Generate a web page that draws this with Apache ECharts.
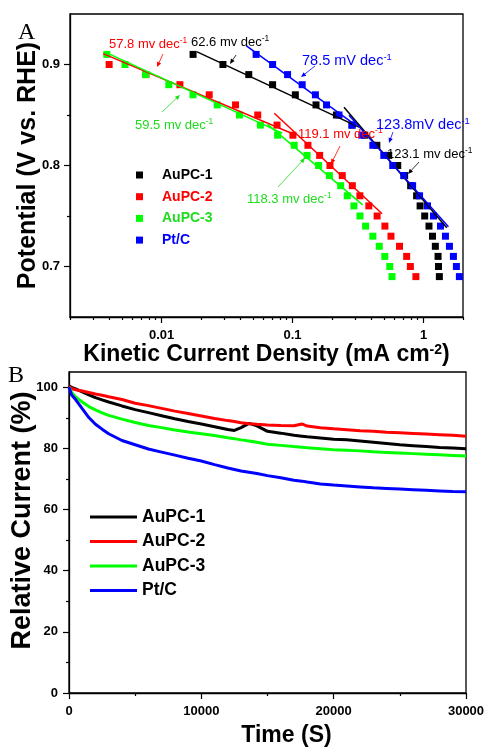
<!DOCTYPE html>
<html>
<head>
<meta charset="utf-8">
<script src="https://cdn.jsdelivr.net/npm/echarts@6/dist/echarts.min.js"></script>
<style>
  html, body { margin: 0; padding: 0; background: #fff; }
  #main { width: 489px; height: 750px; }
</style>
</head>
<body>
<div id="main"></div>
<script>
// ---- panel A: Tafel data (potential vs kinetic current density) ----
var potential = [0.91, 0.90, 0.89, 0.88, 0.87, 0.86, 0.85, 0.84, 0.83, 0.82, 0.81, 0.80,
  0.79, 0.78, 0.77, 0.76, 0.75, 0.74, 0.73, 0.72, 0.71, 0.70, 0.69];
var jkAuPC1 = [0.0174, 0.0294, 0.0463, 0.0704, 0.105, 0.151, 0.216, 0.285, 0.356, 0.44, 0.542, 0.635,
  0.717, 0.797, 0.885, 0.941, 1.02, 1.10, 1.17, 1.23, 1.29, 1.30, 1.32];
var jkAuPC2 = [null, 0.00398, 0.0076, 0.0138, 0.0231, 0.0367, 0.0542, 0.0761, 0.1006, 0.131, 0.161, 0.193,
  0.2395, 0.286, 0.3265, 0.382, 0.442, 0.507, 0.564, 0.655, 0.743, 0.793, 0.874];
var jkAuPC3 = [0.00382, 0.00526, 0.00756, 0.01136, 0.01738, 0.0266, 0.0393, 0.0568, 0.0769, 0.1029, 0.129, 0.158,
  0.191, 0.233, 0.2615, 0.294, 0.327, 0.361, 0.41, 0.459, 0.506, 0.552, 0.574];
var jkPtC = [0.0527, 0.0704, 0.0916, 0.1184, 0.1494, 0.1817, 0.2261, 0.2838, 0.338, 0.41, 0.497, 0.5815,
  0.705, 0.825, 0.932, 1.072, 1.191, 1.346, 1.469, 1.576, 1.69, 1.781, 1.877];

// Tafel fit segments [jk, E]
var fitAuPC1a = [[0.0185, 0.9128], [0.321, 0.838]];
var fitAuPC1b = [[0.247, 0.8576], [1.503, 0.7384]];
var fitAuPC2a = [[0.00358, 0.9108], [0.1066, 0.830]];
var fitAuPC2b = [[0.0725, 0.8517], [0.4825, 0.7522]];
var fitAuPC3a = [[0.00378, 0.9118], [0.0834, 0.832]];
var fitAuPC3b = [[0.0642, 0.8409], [0.343, 0.761]];
var fitPtCa = [[0.0442, 0.9187], [0.303, 0.8399]];
var fitPtCb = [[0.2694, 0.8498], [1.548, 0.7394]];

var xTicksA = [0.01, 0.1, 1];
var xMinorA = [0.002, 0.003, 0.004, 0.005, 0.006, 0.007, 0.008, 0.009, 0.02, 0.03, 0.04, 0.05, 0.06, 0.07,
  0.08, 0.09, 0.2, 0.3, 0.4, 0.5, 0.6, 0.7, 0.8, 0.9, 2];
var yTicksA = [0.7, 0.8, 0.9];
var yMinorA = [0.75, 0.85];

// ---- panel B: stability ----
var timeS = [0, 200, 500, 1000, 1500, 2000, 2500, 3000, 4000, 5000, 6000, 7000, 8000, 9000, 10000, 11000,
  12000, 12500, 13000, 13600, 14200, 15000, 16000, 17000, 17600, 18000, 19000, 20000, 21000, 22000,
  23000, 24000, 25000, 26000, 27000, 28000, 29000, 30000];
var curAuPC1 = [100.5, 100, 99.5, 98.5, 97.5, 96.6, 95.9, 95.2, 93.9, 92.7, 91.7, 90.7, 89.7, 88.8, 88.0, 87.1,
  86.2, 85.9, 86.8, 88.2, 87.4, 85.6, 85.0, 84.3, 84.0, 83.8, 83.4, 83.0, 82.8, 82.4,
  82.0, 81.6, 81.2, 80.9, 80.6, 80.3, 80.1, 79.9];
var curAuPC2 = [100.3, 99.6, 99.2, 98.8, 98.3, 97.8, 97.4, 96.9, 96.0, 94.8, 94.0, 93.1, 92.2, 91.4, 90.6, 89.8,
  89.1, 88.8, 88.4, 88.1, 87.9, 87.7, 87.5, 87.4, 88.0, 87.3, 86.8, 86.4, 86.1, 85.8,
  85.6, 85.3, 85.1, 84.9, 84.7, 84.5, 84.3, 84.0];
var curAuPC3 = [100, 98.3, 96.8, 95.2, 93.7, 92.6, 91.6, 90.8, 89.6, 88.5, 87.5, 86.8, 86.0, 85.4, 84.8, 84.2,
  83.5, 83.2, 82.8, 82.4, 82.0, 81.4, 81.0, 80.6, 80.4, 80.2, 79.9, 79.6, 79.4, 79.2,
  78.9, 78.7, 78.5, 78.3, 78.1, 77.9, 77.7, 77.5];
var curPtC = [100, 97.5, 96.0, 93.0, 90.1, 87.9, 86.3, 84.8, 82.6, 81.2, 79.8, 78.8, 77.8, 76.8, 75.9, 74.7,
  73.6, 73.1, 72.6, 72.2, 71.8, 71.1, 70.4, 69.6, 69.3, 69.0, 68.4, 68.0, 67.7, 67.4,
  67.1, 66.9, 66.7, 66.5, 66.3, 66.1, 65.9, 65.8];

var xTicksB = [0, 10000, 20000, 30000];
var xMinorB = [5000, 15000, 25000];
var yTicksB = [0, 20, 40, 60, 80, 100];
var yMinorB = [10, 30, 50, 70, 90];

var names = ['AuPC-1', 'AuPC-2', 'AuPC-3', 'Pt/C'];
var colors = ['#000000', '#ff0000', '#00ff00', '#0000ff'];
var textColors = ['#000000', '#ff0000', '#1fdc1f', '#0000ff'];

var FONT = 'Arial, "Liberation Sans", sans-serif';

function pairs(xs, ys) {
  var out = [];
  for (var i = 0; i < xs.length; i++) {
    if (xs[i] != null && ys[i] != null) out.push([xs[i], ys[i]]);
  }
  return out;
}

// annotation texts and arrows (pixel layout)
var notes = [
  {t: '57.8 mv dec', x: 109, y: 44, c: '#ff0000', s: 13, ax: [163, 54, 157, 67]},
  {t: '62.6 mv dec', x: 191, y: 42, c: '#000000', s: 13, ax: [236, 55, 230, 64]},
  {t: '78.5 mV dec', x: 302, y: 61, c: '#0000ff', s: 14.5, ax: [315, 66, 301, 77]},
  {t: '59.5 mv dec', x: 135, y: 125, c: '#1fdc1f', s: 13, ax: [162, 112, 180, 95]},
  {t: '119.1 mv dec', x: 298, y: 134, c: '#ff0000', s: 13, ax: [340, 146, 331, 164]},
  {t: '118.3 mv dec', x: 247, y: 199, c: '#1fdc1f', s: 13, ax: [278, 187, 305, 158]},
  {t: '123.8mV dec', x: 376, y: 125, c: '#0000ff', s: 14.5, ax: [393, 132, 389, 143]},
  {t: '123.1 mv dec', x: 387, y: 154, c: '#000000', s: 13, ax: [419, 162, 408, 174]}
];

function arrow(a, color) {
  var x1 = a[0], y1 = a[1], x2 = a[2], y2 = a[3];
  var ang = Math.atan2(y2 - y1, x2 - x1), L = 5, W = 2.2;
  var c = Math.cos(ang), s = Math.sin(ang);
  return [
    {type: 'line', z: 50, shape: {x1: x1, y1: y1, x2: x2 - c * 3, y2: y2 - s * 3}, style: {stroke: color, lineWidth: 0.8}},
    {type: 'polygon', z: 50, shape: {points: [[x2, y2], [x2 - L * c + W * s, y2 - L * s - W * c], [x2 - L * c - W * s, y2 - L * s + W * c]]},
      style: {fill: color}}
  ];
}

var graphics = [];
notes.forEach(function (n) {
  graphics.push({
    type: 'text', z: 50, x: n.x, y: n.y,
    style: {
      text: '{a|' + n.t + '}{s|-1}',
      verticalAlign: 'middle',
      rich: {
        a: {fontFamily: FONT, fontSize: n.s, fill: n.c, lineHeight: n.s + 2},
        s: {fontFamily: FONT, fontSize: n.s * 0.65, fill: n.c, verticalAlign: 'top', lineHeight: n.s * 0.65}
      }
    }
  });
  graphics = graphics.concat(arrow(n.ax, n.c));
});

var chart = echarts.init(document.getElementById('main'), null, {renderer: 'canvas'});

var labelStyle = {fontFamily: FONT, fontWeight: 'bold', fontSize: 13, color: '#000'};
var xNameStyle = {fontFamily: FONT, fontWeight: 'bold', fontSize: 23, color: '#000'};
var axLine = {show: true, lineStyle: {color: '#000', width: 1.3}};

function minorAxis(base, vals) {
  return Object.assign({}, base, {
    axisLine: {show: false},
    axisLabel: {show: false},
    splitLine: {show: false},
    name: '',
    axisTick: {show: true, length: 3, customValues: vals, lineStyle: {color: '#000', width: 1.2}}
  });
}

var xA = {
  type: 'log', logBase: 10, gridIndex: 0, min: 0.002, max: 2, position: 'bottom',
  axisLine: axLine, splitLine: {show: false},
  axisTick: {show: true, length: 6, customValues: xTicksA, lineStyle: {color: '#000', width: 1.2}},
  axisLabel: {customValues: xTicksA, margin: 12, formatter: function (v) { return String(+(+v).toPrecision(3)); }, textStyle: labelStyle},
  name: '{t|Kinetic Current Density (mA cm}{s|-2}{t|)}',
  nameLocation: 'middle', nameGap: 18,
  nameTextStyle: {rich: {
    t: xNameStyle,
    s: {fontFamily: FONT, fontWeight: 'bold', fontSize: 14, color: '#000', verticalAlign: 'top'}
  }}
};
var yA = {
  type: 'value', gridIndex: 0, min: 0.65, max: 0.95, position: 'left',
  axisLine: axLine, splitLine: {show: false},
  axisTick: {show: true, length: 6, customValues: yTicksA, lineStyle: {color: '#000', width: 1.2}},
  axisLabel: {customValues: yTicksA, margin: 10, formatter: function (v) { return (+v).toFixed(1); }, textStyle: labelStyle},
  name: 'Potential (V vs. RHE)', nameLocation: 'middle', nameGap: 29, nameMoveOverlap: false,
  nameTextStyle: {fontFamily: FONT, fontWeight: 'bold', fontSize: 25, color: '#000'}
};
var xB = {
  type: 'value', gridIndex: 1, min: 0, max: 30000, position: 'bottom',
  axisLine: axLine, splitLine: {show: false},
  axisTick: {show: true, length: 6, customValues: xTicksB, lineStyle: {color: '#000', width: 1.2}},
  axisLabel: {customValues: xTicksB, margin: 12, formatter: function (v) { return String(v); }, textStyle: labelStyle},
  name: 'Time (S)', nameLocation: 'middle', nameGap: 31,
  nameTextStyle: Object.assign({padding: [0, 0, 0, 38]}, xNameStyle)
};
var yB = {
  type: 'value', gridIndex: 1, min: 0, max: 105, position: 'left',
  axisLine: axLine, splitLine: {show: false},
  axisTick: {show: true, length: 6, customValues: yTicksB, lineStyle: {color: '#000', width: 1.2}},
  axisLabel: {customValues: yTicksB, margin: 11, textStyle: labelStyle},
  name: 'Relative Current (%)', nameLocation: 'middle', nameGap: 33, nameMoveOverlap: false,
  nameTextStyle: {fontFamily: FONT, fontWeight: 'bold', fontSize: 27, color: '#000', padding: [0, 0, 0, 24]}
};

var series = [];
var jkList = [jkAuPC1, jkAuPC2, jkAuPC3, jkPtC];
names.forEach(function (n, i) {
  series.push({
    name: n, type: 'scatter', xAxisIndex: 0, yAxisIndex: 0,
    symbol: 'rect', symbolSize: 7, itemStyle: {color: colors[i], opacity: 1},
    data: pairs(jkList[i], potential), z: 3
  });
});
var fits = [[fitAuPC1a, fitAuPC1b], [fitAuPC2a, fitAuPC2b], [fitAuPC3a, fitAuPC3b], [fitPtCa, fitPtCb]];
fits.forEach(function (f, i) {
  f.forEach(function (seg, k) {
    series.push({
      name: 'fit' + i + k, type: 'line', xAxisIndex: 0, yAxisIndex: 0,
      symbol: 'none', data: seg, lineStyle: {color: colors[i], width: 1.5}, z: 4, silent: true
    });
  });
});
var curList = [curAuPC1, curAuPC2, curAuPC3, curPtC];
names.forEach(function (n, i) {
  series.push({
    name: 'b_' + n, type: 'line', xAxisIndex: 2, yAxisIndex: 2,
    symbol: 'none', showSymbol: false, data: pairs(timeS, curList[i]),
    color: colors[i], lineStyle: {color: colors[i], width: 3}, z: 3 + i
  });
});

chart.setOption({
  backgroundColor: '#fff',
  animation: false,
  title: [
    {text: 'A', left: 13, top: 16, textStyle: {fontFamily: '"Liberation Serif", "Times New Roman", serif', fontWeight: 'normal', fontSize: 24, color: '#000'}},
    {text: 'B', left: 3, top: 359, textStyle: {fontFamily: '"Liberation Serif", "Times New Roman", serif', fontWeight: 'normal', fontSize: 24, color: '#000'}}
  ],
  grid: [
    {left: 70, top: 14, width: 393, height: 303, show: true, borderColor: '#000', borderWidth: 1.3,
      containLabel: false, outerBoundsMode: 'none'},
    {left: 69, top: 372, width: 397, height: 321, show: true, borderColor: '#000', borderWidth: 1.3,
      containLabel: false, outerBoundsMode: 'none'}
  ],
  xAxis: [xA, minorAxis(xA, xMinorA), xB, minorAxis(xB, xMinorB)],
  yAxis: [yA, minorAxis(yA, yMinorA), yB, minorAxis(yB, yMinorB)],
  legend: [
    {
      orient: 'vertical', left: 131, top: 162, itemWidth: 7, itemHeight: 7, itemGap: 5.7,
      selectedMode: false,
      data: names.map(function (n, i) {
        return {name: n, icon: 'rect', textStyle: {color: textColors[i]}};
      }),
      textStyle: {fontFamily: FONT, fontWeight: 'bold', fontSize: 14, lineHeight: 16, padding: [0, 0, 0, 14]}
    },
    {
      orient: 'vertical', left: 85, top: 503, itemWidth: 47, itemHeight: 3, itemGap: 6.5,
      selectedMode: false,
      data: names.map(function (n) { return {name: 'b_' + n, icon: 'rect'}; }),
      formatter: function (n) { return n.replace('b_', ''); },
      textStyle: {fontFamily: FONT, fontWeight: 'bold', fontSize: 17.5, lineHeight: 16, color: '#000'}
    }
  ],
  graphic: graphics,
  series: series
});
</script>
</body>
</html>
